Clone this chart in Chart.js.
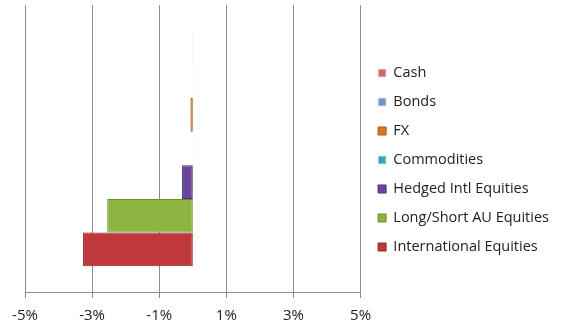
<!DOCTYPE html>
<html>
<head>
<meta charset="utf-8">
<script src="https://cdn.jsdelivr.net/npm/chart.js@4"></script>
<style>
  html, body { margin: 0; padding: 0; background: #fff; }
  #wrap { width: 564px; height: 323px; }
</style>
</head>
<body>
<div id="wrap"><canvas id="chart" width="564" height="323"></canvas></div>
<script>
// one category, each asset class is its own series (top to bottom)
const categories = [""];
const seriesNames = ["Cash", "Bonds", "FX", "Commodities", "Hedged Intl Equities", "Long/Short AU Equities", "International Equities"];
const seriesValues = [0.03, 0.02, -0.07, 0.02, -0.32, -2.55, -3.27];
const seriesColors = ["#c96a6b", "#7192c9", "#d97a22", "#2fa6c1", "#6a479d", "#8db440", "#c0393a"];
const seriesBorders = ["#e4e4e4", "#e4e4e4", "#a85a14", "#e4e4e4", "#4b2f78", "#6e8f2c", "#8f2627"];
const xTicks = [-5, -3, -1, 1, 3, 5];

const datasets = seriesNames.map((name, i) => ({
  label: name,
  data: [seriesValues[i]],
  backgroundColor: seriesColors[i],
  borderColor: seriesBorders[i],
  borderWidth: 1,
  borderSkipped: false,
  categoryPercentage: 0.82,
  barPercentage: 1
}));

// nudge the legend block right/up after layout
const legendShift = {
  id: "legendShift",
  afterLayout(chart) {
    const lg = chart.legend;
    lg.left += 3; lg.right += 3;
    lg.top -= 4; lg.bottom -= 4;
  }
};

const ctx = document.getElementById("chart").getContext("2d");

new Chart(ctx, {
  type: "bar",
  data: { labels: categories, datasets: datasets },
  plugins: [legendShift],
  options: {
    indexAxis: "y",
    responsive: false,
    animation: false,
    layout: { padding: { top: 5, left: 25, right: 8, bottom: 0 } },
    plugins: {
      tooltip: { enabled: false },
      legend: {
        position: "right",
        align: "center",
        labels: {
          boxWidth: 8,
          boxHeight: 8,
          padding: 14.5,
          color: "#222",
          font: { family: "Open Sans", size: 14.5 }
        }
      }
    },
    scales: {
      x: {
        min: -5,
        max: 5,
        afterBuildTicks: axis => { axis.ticks = xTicks.map(v => ({ value: v })); },
        afterFit: axis => { axis.height = 31; },
        ticks: {
          color: "#222",
          padding: 9,
          font: { family: "Open Sans", size: 15 },
          callback: v => v + "%"
        },
        grid: { color: "#8c8c8c", lineWidth: 1, tickLength: 6 },
        border: { color: "#8c8c8c" }
      },
      y: { display: false }
    }
  }
});
</script>
</body>
</html>
